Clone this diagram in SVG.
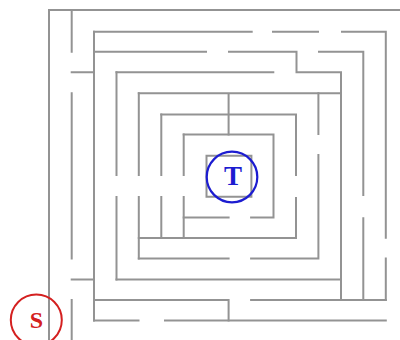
<svg xmlns="http://www.w3.org/2000/svg" width="400" height="340" viewBox="0 0 400 340">
<style>
.w{stroke:#939393;stroke-width:2;fill:none;stroke-linecap:square}
.lbl{font-family:"Liberation Serif",serif;font-weight:bold;text-anchor:middle}
</style>
<rect width="400" height="340" fill="#fff"/>
<g id="walls" class="w">
<path d="M49,10H400"/>
<path d="M94,31.7H251.7M273,31.7H318M342,31.7H385.8V237.7M385.8,258.4V300"/>
<path d="M94,51.7H206M229,51.7H296.5V72.3H341V300M319,51.7H363.3V195M363.3,218.3V300"/>
<path d="M71.7,72.3H94M116.5,72.3H273.3"/>
<path d="M138.8,93.3H341M228.6,93.3V134.5"/>
<path d="M161.3,114.5H296V175M296,198V238H138.8"/>
<path d="M183.7,134.5H273.5V217.5H251.1M228.6,217.5H183.7"/>
<path d="M318.4,93.3V134M318.4,155V258.4H251.1M228.6,258.4H138.8"/>
<path d="M206.5,155.8H251.4V196.8H206.5Z"/>
<path d="M71.7,279.5H94M116.5,279.5H341"/>
<path d="M94,300H228.6V320.5M251.1,300H385.8"/>
<path d="M94,320.5H138.5M165,320.5H385.8"/>
<path d="M49,10V340M71.7,10V51.7M71.7,93.3V258.4M71.7,300V340M94,31.7V320.5"/>
<path d="M116.5,72.3V175M116.5,197V279.5"/>
<path d="M138.8,93.3V175M138.8,197V258.4"/>
<path d="M161.3,114.5V175M161.3,197V238"/>
<path d="M183.7,134.5V175M183.7,197V238"/>
</g>
<g id="target">
<circle cx="232" cy="177" r="25.3" fill="none" stroke="#1c1cd0" stroke-width="2.2"/>
<text class="lbl" x="233" y="184.5" font-size="27" fill="#1c1cd0">T</text>
</g>
<g id="start">
<circle cx="36.3" cy="320" r="25.5" fill="none" stroke="#d42020" stroke-width="2"/>
<text class="lbl" x="36.5" y="328" font-size="24" fill="#d42020">S</text>
</g>
</svg>
